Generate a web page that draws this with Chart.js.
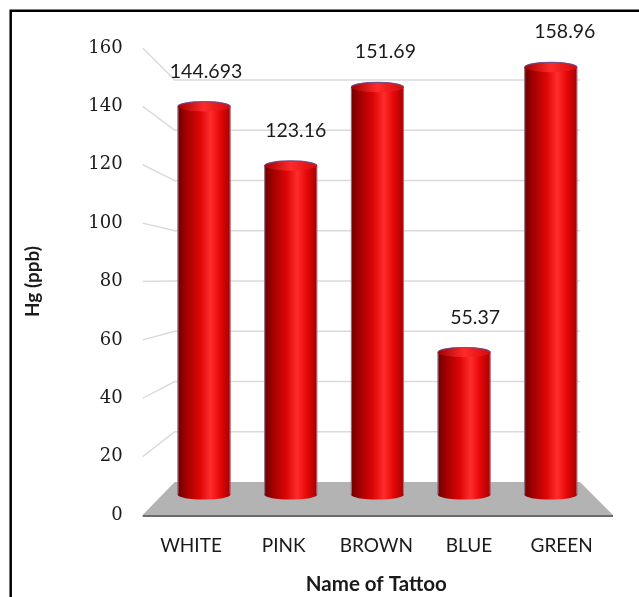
<!DOCTYPE html>
<html><head><meta charset="utf-8">
<script src="https://cdn.jsdelivr.net/npm/chart.js@4.4.1/dist/chart.umd.min.js"></script>
<style>html,body{margin:0;padding:0;background:#fff;}#wrap{width:639px;height:597px;}</style>
</head><body><div id="wrap"><canvas id="c" width="639" height="597"></canvas></div>
<script>
const categories = ['WHITE', 'PINK', 'BROWN', 'BLUE', 'GREEN'];
const hgValues = [144.693, 123.16, 151.69, 55.37, 158.96];
const valueLabels = ['144.693', '123.16', '151.69', '55.37', '158.96'];
const yTicks = [0, 20, 40, 60, 80, 100, 120, 140, 160];

const framePlugin = {
  id: 'frame',
  beforeDraw(chart) {
    const ctx = chart.ctx;
    ctx.save();
    ctx.fillStyle = '#fff';
    ctx.fillRect(0, 0, chart.width, chart.height);
    ctx.strokeStyle = '#000';
    ctx.lineWidth = 2.5;
    ctx.beginPath();
    ctx.moveTo(10.7, chart.height + 5);
    ctx.lineTo(10.7, 10.7);
    ctx.lineTo(chart.width + 5, 10.7);
    ctx.stroke();
    ctx.restore();
  }
};

const wallPlugin = {
  id: 'wall',
  beforeDatasetsDraw(chart) {
    const ctx = chart.ctx, ca = chart.chartArea;
    const y = chart.scales.y, yw = chart.scales.yw;
    const fx = ca.left - 2, bx = ca.left + 30, bxr = ca.right - 28, fxr = ca.right + 5;
    ctx.save();
    ctx.strokeStyle = '#dadada';
    ctx.lineWidth = 1.4;
    yTicks.forEach(t => {
      if (t === 0) return;
      ctx.beginPath();
      ctx.moveTo(fx, y.getPixelForValue(t));
      ctx.lineTo(bx, yw.getPixelForValue(t));
      ctx.lineTo(bxr, yw.getPixelForValue(t));
      ctx.stroke();
    });
    // floor
    const y0 = y.getPixelForValue(0), yb0 = yw.getPixelForValue(0);
    ctx.fillStyle = '#b3b3b3';
    ctx.beginPath();
    ctx.moveTo(fx, y0);
    ctx.lineTo(fxr, y0);
    ctx.lineTo(bxr, yb0);
    ctx.lineTo(bx, yb0);
    ctx.closePath();
    ctx.fill();
    ctx.strokeStyle = '#6a6a6a';
    ctx.lineWidth = 2;
    ctx.beginPath();
    ctx.moveTo(fx, y0 + 1);
    ctx.lineTo(fxr, y0 + 1);
    ctx.stroke();
    ctx.restore();
  }
};

const cylinderPlugin = {
  id: 'cylinders',
  afterDatasetsDraw(chart) {
    const ctx = chart.ctx;
    const meta = chart.getDatasetMeta(0);
    ctx.save();
    meta.data.forEach((el, i) => {
      const p = el.getProps(['x', 'y', 'base', 'width'], true);
      const l = p.x - p.width / 2, r = p.x + p.width / 2, rx = p.width / 2, ry = 5;
      const g = ctx.createLinearGradient(l, 0, r, 0);
      g.addColorStop(0, '#6a0000');
      g.addColorStop(0.14, '#9c0000');
      g.addColorStop(0.42, '#dc0606');
      g.addColorStop(0.62, '#ff2c2c');
      g.addColorStop(0.8, '#e60808');
      g.addColorStop(1, '#a40000');
      ctx.fillStyle = g;
      ctx.beginPath();
      ctx.moveTo(l, p.y + ry);
      ctx.lineTo(l, p.base - ry);
      ctx.ellipse(p.x, p.base - ry, rx, ry, 0, Math.PI, 0, true);
      ctx.lineTo(r, p.y + ry);
      ctx.closePath();
      ctx.fill();
      // side rims
      ctx.strokeStyle = 'rgba(175,185,215,0.6)';
      ctx.lineWidth = 1;
      ctx.beginPath();
      ctx.moveTo(l + 0.5, p.y + ry);
      ctx.lineTo(l + 0.5, p.base - ry);
      ctx.moveTo(r - 0.5, p.y + ry);
      ctx.lineTo(r - 0.5, p.base - ry);
      ctx.stroke();
      // top cap
      const gc = ctx.createLinearGradient(l, 0, r, 0);
      gc.addColorStop(0, '#a00000');
      gc.addColorStop(0.5, '#ff2a2a');
      gc.addColorStop(1, '#d40a0a');
      ctx.fillStyle = gc;
      ctx.beginPath();
      ctx.ellipse(p.x, p.y + ry, rx, ry, 0, 0, Math.PI * 2);
      ctx.fill();
      ctx.strokeStyle = 'rgba(105,75,140,0.9)';
      ctx.lineWidth = 1.2;
      ctx.beginPath();
      ctx.ellipse(p.x, p.y + ry, rx - 0.5, ry - 0.3, 0, Math.PI, 0, false);
      ctx.stroke();
      // value label
      ctx.fillStyle = '#1a1a1a';
      ctx.font = '19.5px Lato';
      ctx.textAlign = 'center';
      ctx.textBaseline = 'middle';
      ctx.fillText(valueLabels[i], p.x + 2 + 3 * i, p.y - 30);
    });
    ctx.restore();
  }
};

new Chart(document.getElementById('c'), {
  type: 'bar',
  data: {
    labels: categories,
    datasets: [{
      label: 'Hg (ppb)',
      data: categories.map((c, i) => ({ x: i, y: hgValues[i] })),
      xAxisID: 'xb',
      yAxisID: 'yb',
      backgroundColor: 'rgba(0,0,0,0)',
      borderWidth: 0,
      barThickness: 53
    }]
  },
  options: {
    responsive: false,
    animation: false,
    layout: { padding: { left: 0, right: 31, top: 48, bottom: 0 } },
    plugins: { legend: { display: false }, tooltip: { enabled: false } },
    scales: {
      x: {
        type: 'category', labels: categories, offset: true, position: 'bottom',
        grid: { display: false, drawTicks: false }, border: { display: false },
        ticks: { font: { family: 'Lato', size: 19 }, color: '#1a1a1a', padding: 19, maxRotation: 0, autoSkip: false },
        title: { display: true, text: 'Name of Tattoo', font: { family: 'Lato', size: 20.5, weight: 'bold' }, color: '#1a1a1a', padding: { top: 0, bottom: 0 } },
        afterFit(s) { s.height = 82; }
      },
      xb: { type: 'linear', display: false, offset: false, min: -0.6846, max: 4.660, grid: { offset: false } },
      y: {
        type: 'linear', position: 'left', min: 0, max: 160,
        afterBuildTicks(s) { s.ticks = yTicks.map(v => ({ value: v })); },
        ticks: { font: { family: 'DejaVu Serif', size: 18 }, color: '#1a1a1a', padding: 22 },
        grid: { display: false, drawTicks: false }, border: { display: false },
        title: { display: true, text: 'Hg (ppb)', font: { family: 'Lato', size: 19, weight: 'bold' }, color: '#1a1a1a', padding: { top: 21.6, bottom: 0 } },
        afterFit(s) { s.width = 144.7; }
      },
      yb: { type: 'linear', display: false, min: -5.596, max: 164.1 },
      yw: { type: 'linear', display: false, min: -13.13, max: 172.74 }
    }
  },
  plugins: [framePlugin, wallPlugin, cylinderPlugin]
});
</script>
</body></html>
